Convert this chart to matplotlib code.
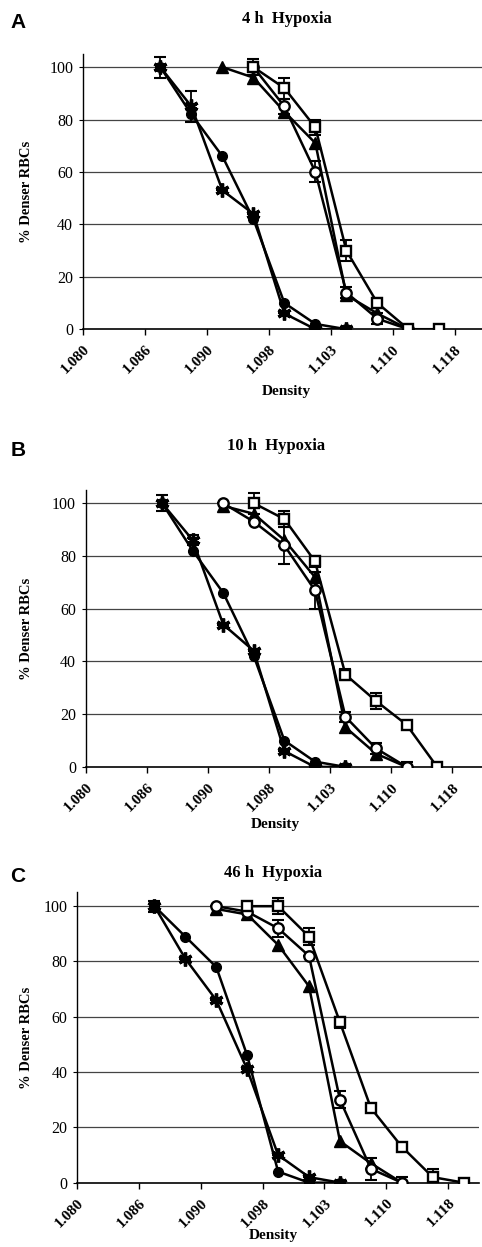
import numpy as np
import matplotlib
matplotlib.use("Agg")
import matplotlib.pyplot as plt

plt.rcParams["font.family"] = ["Liberation Serif", "DejaVu Serif"]

# category positions of the density fractions (between tick labels)
x_pts = [1.25, 1.75, 2.25, 2.75, 3.25, 3.75, 4.25, 4.75, 5.25, 5.75, 6.25]
tick_labels = ["1.080", "1.086", "1.090", "1.098", "1.103", "1.110", "1.118"]
titles = ["4 h  Hypoxia", "10 h  Hypoxia", "46 h  Hypoxia"]
letters = ["A", "B", "C"]

N = None
# panel A (4 h)
a_fcircle = [100, 82, 66, 42, 10, 2, 0, N, N, N, N]
a_star = [100, 85, 53, 44, 6, 0, 0, N, N, N, N]
a_tri = [N, N, 100, 96, 83, 71, 13, 6, 0, N, N]
a_ocircle = [N, N, N, 100, 85, 60, 14, 4, 0, N, N]
a_square = [N, N, N, 100, 92, 77, 30, 10, 0, 0, N]
a_star_err = [4, 6, 0, 0, 0, 0, 0, N, N, N, N]
a_ocircle_err = [N, N, N, 0, 3, 4, 2, 2, 1, N, N]
a_square_err = [N, N, N, 3, 4, 3, 4, 2, 1, 0, N]

# panel B (10 h)
b_fcircle = [100, 82, 66, 42, 10, 2, 0, N, N, N, N]
b_star = [100, 86, 54, 44, 6, 0, 0, N, N, N, N]
b_tri = [N, N, 99, 96, 86, 72, 15, 5, 0, N, N]
b_ocircle = [N, N, 100, 93, 84, 67, 19, 7, 0, N, N]
b_square = [N, N, N, 100, 94, 78, 35, 25, 16, 0, N]
b_star_err = [3, 2, 0, 0, 0, 0, 0, N, N, N, N]
b_ocircle_err = [N, N, 0, 0, 7, 7, 2, 2, 2, N, N]
b_square_err = [N, N, N, 4, 3, 2, 2, 3, 1, 0, N]

# panel C (46 h)
c_fcircle = [100, 89, 78, 46, 4, 0, 0, N, N, N, N]
c_star = [100, 81, 66, 41, 10, 2, 0, N, N, N, N]
c_tri = [N, N, 99, 97, 86, 71, 15, 7, 0, N, N]
c_ocircle = [N, N, 100, 98, 92, 82, 30, 5, 0, N, N]
c_square = [N, N, N, 100, 100, 89, 58, 27, 13, 2, 0]
c_star_err = [2, 0, 0, 0, 0, 0, 0, N, N, N, N]
c_ocircle_err = [N, N, 0, 0, 3, 0, 3, 4, 2, N, N]
c_square_err = [N, N, N, 0, 3, 3, 2, 0, 1, 3, 0]

panels = [
    (a_fcircle, a_star, a_tri, a_ocircle, a_square, a_star_err, a_ocircle_err, a_square_err),
    (b_fcircle, b_star, b_tri, b_ocircle, b_square, b_star_err, b_ocircle_err, b_square_err),
    (c_fcircle, c_star, c_tri, c_ocircle, c_square, c_star_err, c_ocircle_err, c_square_err),
]

# axes rectangles [left, bottom, width, height] in figure fraction
rects = [
    [0.172, 0.736, 0.836, 0.2207],
    [0.178, 0.385, 0.824, 0.2220],
    [0.160, 0.0516, 0.834, 0.2328],
]
title_y = [0.985, 0.642, 0.300]
xlabel_y = [0.681, 0.334, 0.004]
title_x = [0.595, 0.572, 0.567]


def arr(v):
    return np.array([np.nan if e is None else e for e in v], dtype=float)


fig = plt.figure(figsize=(4.82, 12.47), dpi=100)

for i, data in enumerate(panels):
    fc, st, tr, oc, sq, st_e, oc_e, sq_e = data
    ax = fig.add_axes(rects[i])
    x = np.array(x_pts)

    ax.set_xlim(0, 6.5)
    ax.set_ylim(0, 105)
    ax.set_yticks([0, 20, 40, 60, 80, 100])
    for g in [20, 40, 60, 80, 100]:
        ax.axhline(g, color="#444444", lw=0.9, zorder=0)

    line_kw = dict(color="black", lw=1.8, zorder=3)
    err_kw = dict(fmt="none", ecolor="black", elinewidth=1.3, capsize=4.5, capthick=1.5, zorder=2)

    ax.errorbar(x, arr(st), yerr=arr(st_e), **err_kw)
    ax.errorbar(x, arr(oc), yerr=arr(oc_e), **err_kw)
    ax.errorbar(x, arr(sq), yerr=arr(sq_e), **err_kw)

    ax.plot(x, arr(fc), marker="o", ms=7, mfc="black", mec="black", **line_kw)
    ax.plot(x, arr(st), marker=(6, 2, 0), ms=10, mec="black", mew=2.4, **line_kw)
    ax.plot(x, arr(tr), marker="^", ms=8, mfc="black", mec="black", **line_kw)
    ax.plot(x, arr(oc), marker="o", ms=7.5, mfc="white", mec="black", mew=1.7, **line_kw)
    ax.plot(x, arr(sq), marker="s", ms=7.5, mfc="white", mec="black", mew=1.7, **line_kw)

    ax.set_xticks(range(len(tick_labels)))
    ax.set_xticklabels(tick_labels, rotation=45, ha="right", rotation_mode="anchor",
                       fontsize=11, fontweight="bold")
    ax.tick_params(axis="x", length=4, width=1, direction="out", pad=6)
    ax.tick_params(axis="y", length=3, width=0.8, labelsize=11.5, pad=4)
    for s in ["top", "right"]:
        ax.spines[s].set_visible(False)
    ax.spines["left"].set_linewidth(1.0)
    ax.spines["bottom"].set_linewidth(1.2)

    b, h = rects[i][1], rects[i][3]
    fig.text(0.056, b + h / 2, "% Denser RBCs", rotation=90, ha="center", va="center",
             fontsize=10.5, fontweight="bold")
    fig.text(title_x[i], title_y[i], titles[i], ha="center", va="center",
             fontsize=12, fontweight="bold")
    fig.text(title_x[i], xlabel_y[i], "Density", ha="center", va="bottom",
             fontsize=11, fontweight="bold")
    fig.text(0.022, title_y[i] - 0.003, letters[i], ha="left", va="center",
             fontsize=15, fontweight="bold", family=["Liberation Sans", "DejaVu Sans"])

fig.savefig("out.png", dpi=100)
